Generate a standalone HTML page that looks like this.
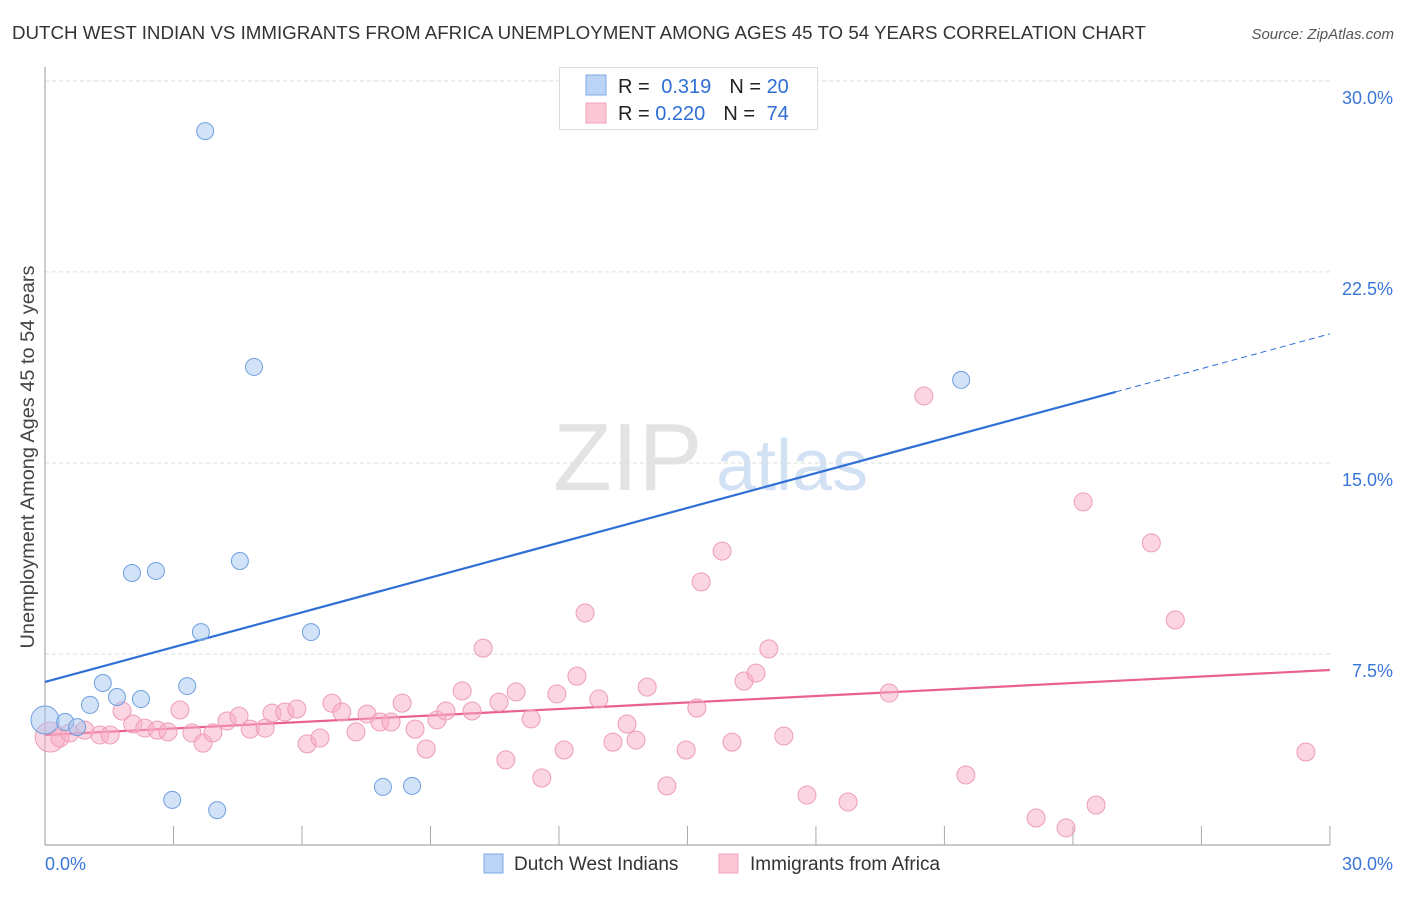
<!DOCTYPE html>
<html><head><meta charset="utf-8"><style>
body{margin:0;background:#fff;font-family:"Liberation Sans",sans-serif;}
svg text{font-family:"Liberation Sans",sans-serif;}
</style></head><body>
<svg id="chart" width="1406" height="892">
<text x="12" y="39" font-size="18" fill="#333" textLength="1134" lengthAdjust="spacingAndGlyphs">DUTCH WEST INDIAN VS IMMIGRANTS FROM AFRICA UNEMPLOYMENT AMONG AGES 45 TO 54 YEARS CORRELATION CHART</text>
<text x="1394" y="39" font-size="15" fill="#555" font-style="italic" text-anchor="end">Source: ZipAtlas.com</text>
<g>
<text x="553" y="490" font-size="96" font-family="Liberation Serif" fill="#e3e3e3">ZIP</text>
<text x="716" y="490" font-size="72" fill="#d2e2f4">atlas</text>
</g>
<text transform="translate(34,457) rotate(-90)" font-size="19" fill="#444" text-anchor="middle" textLength="383" lengthAdjust="spacingAndGlyphs">Unemployment Among Ages 45 to 54 years</text>
<g id="grid"></g><g id="axes"></g><g id="lines"></g><g id="pts"></g>
<g>
<rect x="559.5" y="67.5" width="258" height="62" fill="#fff" stroke="#ddd"/>
<rect x="586" y="75" width="20" height="20" fill="#b9d4f5" stroke="#7fa9e4"/>
<rect x="586" y="103" width="20" height="20" fill="#fcc8d6" stroke="#f2a3bb"/>
<text x="618" y="93" font-size="20" fill="#222">R = <tspan fill="#2f6fd6" dx="6">0.319</tspan><tspan dx="18" fill="#222">N = </tspan><tspan fill="#2f6fd6">20</tspan></text>
<text x="618" y="120" font-size="20" fill="#222">R = <tspan fill="#2f6fd6">0.220</tspan><tspan dx="18" fill="#222">N = </tspan><tspan fill="#2f6fd6" dx="6">74</tspan></text>
</g>
<g>
<rect x="484" y="854" width="19" height="19" fill="#b9d4f5" stroke="#7fa9e4"/>
<text x="514" y="870" font-size="19" fill="#333">Dutch West Indians</text>
<rect x="719" y="854" width="19" height="19" fill="#fcc8d6" stroke="#f2a3bb"/>
<text x="750" y="870" font-size="19" fill="#333">Immigrants from Africa</text>
</g>
</svg>
<script>
const yTicks=[7.5,15,22.5,30];
const yTickLabels=["7.5%","15.0%","22.5%","30.0%"];
const xTicks=[0,3,6,9,12,15,18,21,24,27,30];
const blueX=[0,0.47,0.75,1.05,1.35,1.68,2.24,2.03,2.59,3.32,3.64,3.74,4.55,4.88,6.21,2.97,4.02,7.89,8.57,21.39];
const blueY=[4.91,4.83,4.63,5.50,6.36,5.81,5.73,10.68,10.76,6.24,8.36,28.03,11.15,18.77,8.36,1.77,1.37,2.28,2.32,18.26];
const pinkX=[0.12,0.35,0.58,0.93,1.28,1.52,1.80,2.05,2.33,2.62,2.87,3.15,3.43,3.69,3.92,4.25,4.53,4.79,5.14,5.30,5.60,5.88,6.12,6.42,6.70,6.93,7.26,7.52,7.82,8.08,8.34,8.64,8.90,9.15,9.36,9.74,9.97,10.23,10.60,10.76,11.00,11.35,11.60,11.95,12.12,12.42,12.61,12.93,13.26,13.59,13.80,14.06,14.52,14.97,15.22,15.32,15.81,16.04,16.32,16.60,16.90,17.25,17.79,18.75,19.71,20.52,21.50,23.14,23.84,24.24,24.54,25.83,26.39,29.44];
const pinkY=[4.24,4.20,4.40,4.51,4.32,4.32,5.26,4.75,4.59,4.51,4.44,5.30,4.40,4.00,4.40,4.87,5.06,4.55,4.59,5.18,5.22,5.34,3.97,4.20,5.57,5.22,4.44,5.14,4.83,4.83,5.57,4.55,3.77,4.91,5.26,6.05,5.26,7.73,5.61,3.34,6.01,4.95,2.63,5.93,3.73,6.63,9.11,5.73,4.04,4.75,4.12,6.20,2.32,3.73,5.38,10.33,11.54,4.04,6.44,6.75,7.70,4.28,1.96,1.69,5.97,17.63,2.75,1.06,0.67,13.47,1.57,11.86,8.84,3.65];
const blueTrend=[6.40,0.4556];
const pinkTrend=[4.32,0.085];
const NS="http://www.w3.org/2000/svg";
const X=v=>45+v*42.83, Y=v=>845-v*25.47;
function mk(t,a,p){const e=document.createElementNS(NS,t);for(const k in a)e.setAttribute(k,a[k]);document.getElementById(p).appendChild(e);return e;}
yTicks.forEach((t,i)=>{
 const l=mk('line',{x1:45,x2:1330,y1:Y(t),y2:Y(t),stroke:'#ddd','stroke-dasharray':'4,3'},'grid');
 
 
 const tx=mk('text',{x:1393,y:Y(t)+23,'font-size':18,fill:'#3a76d8','text-anchor':'end'},'grid');
 tx.textContent=yTickLabels[i];
 
 
});
let a=mk('line',{x1:45,x2:45,y1:67,y2:845,stroke:'#aaa','stroke-width':1.2},'axes');


a=mk('line',{x1:45,x2:1330,y1:845,y2:845,stroke:'#aaa','stroke-width':1.2},'axes');


xTicks.forEach(t=>{if(t===0)return;
 const l=mk('line',{x1:X(t),x2:X(t),y1:826,y2:845,stroke:'#aaa'},'axes');
 
 
});
let t1=mk('text',{x:45,y:870,'font-size':18,fill:'#3a76d8'},'axes');t1.textContent='0.0%';


let t2=mk('text',{x:1393,y:870,'font-size':18,fill:'#3a76d8','text-anchor':'end'},'axes');t2.textContent='30.0%';


pinkX.forEach((x,i)=>{
 const c=mk('circle',{cx:X(x),cy:Y(pinkY[i]),r:i===0?15:9,fill:'rgba(248,172,195,0.5)',stroke:'#ee9db6','stroke-width':1},'pts');
 
 
});
blueX.forEach((x,i)=>{
 const c=mk('circle',{cx:X(x),cy:Y(blueY[i]),r:i===0?14:8.5,fill:'rgba(165,198,240,0.5)',stroke:'#6f9fe0','stroke-width':1},'pts');
 
 
});
const bt=v=>blueTrend[0]+blueTrend[1]*v, pt=v=>pinkTrend[0]+pinkTrend[1]*v;
let l=mk('line',{x1:X(0),y1:Y(bt(0)),x2:X(25),y2:Y(bt(25)),stroke:'#2f6fd6','stroke-width':2.2},'lines');


l=mk('line',{x1:X(25),y1:Y(bt(25)),x2:X(30),y2:Y(bt(30)),stroke:'#2f6fd6','stroke-width':1,'stroke-dasharray':'6,4'},'lines');


l=mk('line',{x1:X(0),y1:Y(pt(0)),x2:X(30),y2:Y(pt(30)),stroke:'#e9608c','stroke-width':2.2},'lines');


</script>
</body></html>
